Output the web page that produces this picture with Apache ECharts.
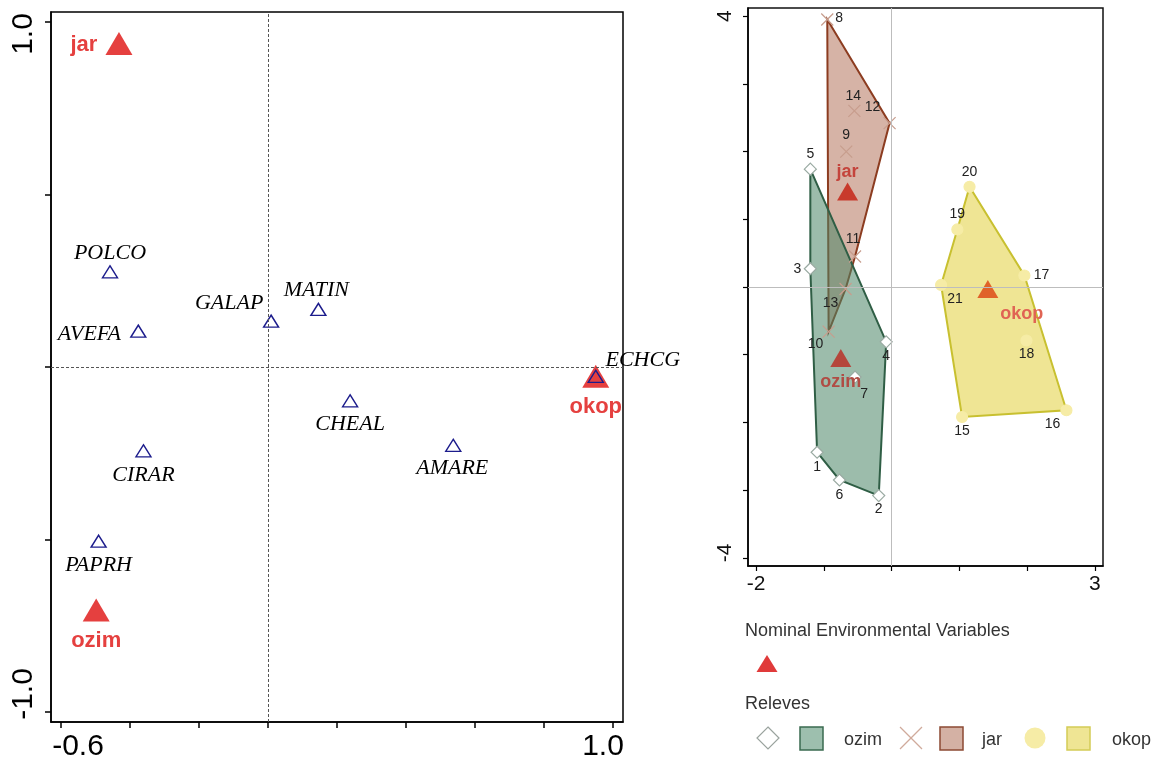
<!DOCTYPE html>
<html><head><meta charset="utf-8">
<script src="https://cdn.jsdelivr.net/npm/echarts@6.0.0/dist/echarts.min.js"></script>
<style>html,body{margin:0;padding:0;background:#fff}#c{width:1164px;height:767px}</style>
</head><body><div id="c"></div><script>
// ---------- Left panel (CCA biplot) data ----------
const speciesNames = ['POLCO','AVEFA','GALAP','MATIN','ECHCG','CHEAL','AMARE','CIRAR','PAPRH'];
const speciesX = [-0.458,-0.376,0.009,0.146,0.950,0.238,0.537,-0.361,-0.491];
const speciesY = [0.276,0.104,0.133,0.167,-0.027,-0.098,-0.227,-0.243,-0.505];
const envNames = ['jar','ozim','okop'];
const envX = [-0.432,-0.498,0.950];
const envY = [0.938,-0.704,-0.027];
const leftXTicks = [-0.6,-0.4,-0.2,0,0.2,0.4,0.6,0.8,1.0];
const leftYTicks = [-1.0,-0.5,0,0.5,1.0];
const leftXLabels = [-0.6,1.0];
const leftYLabels = [-1.0,1.0];

// ---------- Right panel (releves) data ----------
const releveIds = [1,2,3,4,5,6,7,8,9,10,11,12,13,14,15,16,17,18,19,20,21];
const releveX = [-1.10,-0.19,-1.20,-0.08,-1.20,-0.77,-0.54, -0.95,-0.67,-0.93,-0.54,-0.03,-0.68,-0.55, 1.04,2.58,1.96,1.99,0.97,1.15,0.73];
const releveY = [-2.44,-3.08,0.27,-0.81,1.74,-2.85,-1.33, 3.95,2.00,-0.66,0.45,2.42,-0.03,2.60, -1.92,-1.82,0.17,-0.79,0.85,1.48,0.03];
const releveGroup = ['ozim','ozim','ozim','ozim','ozim','ozim','ozim','jar','jar','jar','jar','jar','jar','jar','okop','okop','okop','okop','okop','okop','okop'];
const hullOzim = [5,4,2,6,1,3];
const hullJar = [8,12,11,13,10];
const hullOkop = [20,17,16,15,21,19];
const centroidNames = ['jar','ozim','okop'];
const centroidX = [-0.65,-0.75,1.42];
const centroidY = [1.41,-1.05,-0.03];
const rightXTicks = [-2,-1,0,1,2,3];
const rightYTicks = [-4,-3,-2,-1,0,1,2,3,4];
const rightXLabels = [-2,3];
const rightYLabels = [-4,4];

// ---------- Styling (label placement offsets, colours) ----------
const speciesLabelOffset = {POLCO:[0,-19],AVEFA:[-49,3],GALAP:[-42,-18],MATIN:[-2,-19],ECHCG:[47,-16],CHEAL:[0,23],AMARE:[-1,23],CIRAR:[0,24],PAPRH:[0,24]};
const envLabelOffset = {jar:[-35,2],ozim:[0,31],okop:[0,31]};
const releveLabelOffset = {1:[0,15],2:[0,14],3:[-13,0],4:[0,14],5:[0,-15],6:[0,15],7:[9,17],8:[12,-1],9:[0,-16],10:[-13,12],11:[-2,-17],12:[-17,-16],13:[-15,14],14:[-1,-15],15:[0,14],16:[-14,14],17:[17,0],18:[0,14],19:[0,-15],20:[0,-15],21:[14,14]};
const centroidLabelOffset = {jar:[0,-19],ozim:[0,24],okop:[34,25]};
const centroidColor = {jar:'#c83a2c',ozim:'#b5463b',okop:'#e0622a'};
const centroidLabelColor = {jar:'#c4443c',ozim:'#b04c44',okop:'#e06454'};
const groupStyle = {
  ozim:{fill:'rgba(74,133,102,0.55)',stroke:'#2f5e45',symbol:'diamond',mcolor:'#fff',mborder:'#9aaaa2'},
  jar:{fill:'rgba(180,117,93,0.55)',stroke:'#8c3c20',symbol:'path://M0,0L10,10M10,0L0,10',mcolor:'none',mborder:'#c79d8d'},
  okop:{fill:'rgba(228,212,77,0.6)',stroke:'#c8c030',symbol:'circle',mcolor:'#f6eca6',mborder:'#f6eca6'}
};
const SANS = 'Liberation Sans, Arial, sans-serif';
const SERIF = 'Liberation Serif, Times New Roman, serif';
const RED = '#e5403f';

function hullSeries(ids, st) {
  return {
    type:'custom', xAxisIndex:1, yAxisIndex:1, silent:true, clip:false,
    data: ids.map(id => [releveX[id-1], releveY[id-1]]),
    renderItem: (params, api) => {
      if (params.dataIndex !== 0) return null;
      const pts = ids.map(id => api.coord([releveX[id-1], releveY[id-1]]));
      return {type:'polygon', shape:{points:pts}, style:{fill:st.fill, stroke:st.stroke, lineWidth:2}};
    }
  };
}

function releveSeries(group) {
  const st = groupStyle[group];
  const data = [];
  releveIds.forEach((id,i) => {
    if (releveGroup[i] !== group) return;
    data.push({value:[releveX[i], releveY[i]], name:String(id),
      label:{offset: releveLabelOffset[id]}});
  });
  return {
    type:'scatter', xAxisIndex:1, yAxisIndex:1, silent:true,
    symbol: st.symbol, symbolSize: group==='okop'?11:12,
    itemStyle:{color:st.mcolor, borderColor:st.mborder, borderWidth:1.2, opacity:1},
    label:{show:true, position:'inside', formatter:'{b}', color:'#222', fontSize:14, fontFamily:SANS},
    data
  };
}

const chart = echarts.init(document.getElementById('c'), null, {renderer:'canvas'});

const option = {
  animation:false,
  backgroundColor:'#fff',
  grid:[
    {left:51, top:12, width:572, height:710, show:true, borderColor:'#000', borderWidth:1.5, backgroundColor:'transparent'},
    {left:748, top:8, width:355, height:558, show:true, borderColor:'#111', borderWidth:1.5, backgroundColor:'transparent'}
  ],
  xAxis:[
    {gridIndex:0, type:'value', min:-0.629, max:1.029,
      axisLine:{show:true, onZero:false, lineStyle:{color:'#000', width:1.5}},
      axisTick:{show:true, length:6, customValues:leftXTicks, lineStyle:{color:'#000', width:1.5}},
      splitLine:{show:false},
      axisLabel:{show:true, customValues:leftXLabels, margin:10, color:'#000', fontSize:30, fontFamily:SANS,
        formatter:v => v < 0 ? '{a|' + v.toFixed(1) + '}' : '{b|' + v.toFixed(1) + '}',
        rich:{a:{fontSize:30, fontFamily:SANS, color:'#000', padding:[0,0,0,34]}, b:{fontSize:30, fontFamily:SANS, color:'#000', padding:[0,20,0,0]}}}
    },
    {gridIndex:1, type:'value', min:-2.12, max:3.12,
      axisLine:{show:true, onZero:false, lineStyle:{color:'#000', width:1.5}},
      axisTick:{show:true, length:5, customValues:rightXTicks, lineStyle:{color:'#000', width:1.2}},
      splitLine:{show:false},
      axisLabel:{show:true, customValues:rightXLabels, margin:8, color:'#111', fontSize:21, fontFamily:SANS,
        formatter:v => String(v)}
    }
  ],
  yAxis:[
    {gridIndex:0, type:'value', min:-1.029, max:1.029,
      axisLine:{show:true, onZero:false, lineStyle:{color:'#000', width:1.5}},
      axisTick:{show:true, length:6, customValues:leftYTicks, lineStyle:{color:'#000', width:1.5}},
      splitLine:{show:false},
      axisLabel:{show:true, customValues:leftYLabels, margin:12, rotate:90, color:'#000', fontSize:30, fontFamily:SANS,
        formatter:v => v < 0 ? '{a|' + v.toFixed(1) + '}' : '{b|' + v.toFixed(1) + '}',
        rich:{a:{fontSize:30, fontFamily:SANS, color:'#000', padding:[0,0,0,36]}, b:{fontSize:30, fontFamily:SANS, color:'#000', padding:[0,24,0,0]}}}
    },
    {gridIndex:1, type:'value', min:-4.12, max:4.12,
      axisLine:{show:true, onZero:false, lineStyle:{color:'#000', width:1.5}},
      axisTick:{show:true, length:5, customValues:rightYTicks, lineStyle:{color:'#000', width:1.2}},
      splitLine:{show:false},
      axisLabel:{show:true, customValues:rightYLabels, margin:12, rotate:90, color:'#111', fontSize:21, fontFamily:SANS,
        formatter:v => v < 0 ? '{a|' + v + '}' : '{b|' + v + '}',
        rich:{a:{fontSize:21, fontFamily:SANS, color:'#111', padding:[0,0,0,10]}, b:{fontSize:21, fontFamily:SANS, color:'#111'}}}
    }
  ],
  series:[
    // left: environmental centroids (under species)
    {type:'scatter', xAxisIndex:0, yAxisIndex:0, silent:true,
      symbol:'triangle', symbolSize:[27,23],
      itemStyle:{color:RED, opacity:1},
      label:{show:true, position:'inside', formatter:'{b}', color:RED, fontSize:22, fontWeight:'bold', fontFamily:SANS},
      data: envNames.map((n,i) => ({name:n, value:[envX[i], envY[i]], label:{offset:envLabelOffset[n]}})),
      markLine:{silent:true, symbol:'none', label:{show:false},
        lineStyle:{type:[3,2], color:'#555', width:1},
        data:[{xAxis:0},{yAxis:0}]}
    },
    // left: species
    {type:'scatter', xAxisIndex:0, yAxisIndex:0, silent:true,
      symbol:'triangle', symbolSize:[15,12],
      itemStyle:{color:'rgba(255,255,255,0)', borderColor:'#1c1c8c', borderWidth:1.4, opacity:1},
      label:{show:true, position:'inside', formatter:'{b}', color:'#000', fontSize:22, fontStyle:'italic', fontFamily:SERIF},
      data: speciesNames.map((n,i) => ({name:n, value:[speciesX[i], speciesY[i]], label:{offset:speciesLabelOffset[n]}}))
    },
    // right: axes zero lines via markLine on hull series
    Object.assign(hullSeries(hullOkop, groupStyle.okop), {
      markLine:{silent:true, symbol:'none', label:{show:false},
        lineStyle:{type:'solid', color:'#bdbdbd', width:1},
        data:[{xAxis:0},{yAxis:0}]}
    }),
    hullSeries(hullJar, groupStyle.jar),
    hullSeries(hullOzim, groupStyle.ozim),
    releveSeries('ozim'),
    releveSeries('jar'),
    releveSeries('okop'),
    {type:'scatter', xAxisIndex:1, yAxisIndex:1, silent:true,
      symbol:'triangle', symbolSize:[21,18],
      label:{show:true, position:'inside', formatter:'{b}', fontSize:18, fontWeight:'bold', fontFamily:SANS},
      data: centroidNames.map((n,i) => ({name:n, value:[centroidX[i], centroidY[i]],
        itemStyle:{color:centroidColor[n], opacity:1},
        label:{offset:centroidLabelOffset[n], color:centroidLabelColor[n]}}))
    }
  ],
  graphic:[
    {type:'text', left:745, top:622, style:{text:'Nominal Environmental Variables', font:'18px ' + SANS, fill:'#333'}},
    {type:'polygon', shape:{points:[[767,655],[777.5,672],[756.5,672]]}, style:{fill:'#e03a3a'}},
    {type:'text', left:745, top:695, style:{text:'Releves', font:'18px ' + SANS, fill:'#333'}},
    {type:'polygon', shape:{points:[[768,727],[779,738],[768,749],[757,738]]}, style:{fill:'#fff', stroke:'#9aa39e', lineWidth:1.2}},
    {type:'rect', shape:{x:800, y:727, width:23, height:23}, style:{fill:'#9dbfae', stroke:'#3a6b50', lineWidth:1.5}},
    {type:'text', left:844, top:731, style:{text:'ozim', font:'18px ' + SANS, fill:'#333'}},
    {type:'polyline', shape:{points:[[900,727],[922,749]]}, style:{stroke:'#d0aa9c', lineWidth:1.2}},
    {type:'polyline', shape:{points:[[922,727],[900,749]]}, style:{stroke:'#d0aa9c', lineWidth:1.2}},
    {type:'rect', shape:{x:940, y:727, width:23, height:23}, style:{fill:'#d4b1a4', stroke:'#8c4a33', lineWidth:1.5}},
    {type:'text', left:982, top:731, style:{text:'jar', font:'18px ' + SANS, fill:'#333'}},
    {type:'circle', shape:{cx:1035, cy:738, r:10.5}, style:{fill:'#f6eca6'}},
    {type:'rect', shape:{x:1067, y:727, width:23, height:23}, style:{fill:'#efe594', stroke:'#d4cc55', lineWidth:1.5}},
    {type:'text', left:1112, top:731, style:{text:'okop', font:'18px ' + SANS, fill:'#333'}}
  ]
};
chart.setOption(option);
</script></body></html>
